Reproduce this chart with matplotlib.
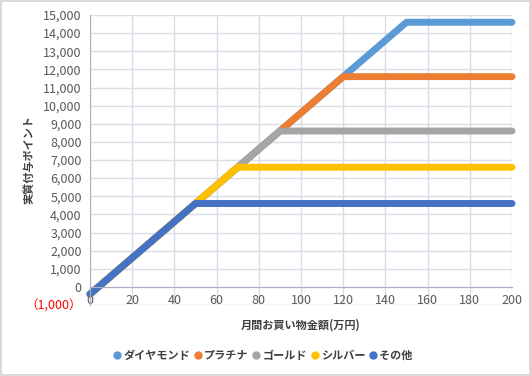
import matplotlib.pyplot as plt
from matplotlib.lines import Line2D
from matplotlib.ticker import FuncFormatter

plt.rcParams['font.family'] = ['Noto Sans CJK JP', 'DejaVu Sans']

# 月間お買い物金額(万円)
amount = [0, 10, 20, 30, 40, 50, 60, 70, 80, 90, 100,
          110, 120, 130, 140, 150, 160, 170, 180, 190, 200]

diamond = [-400, 600, 1600, 2600, 3600, 4600, 5600, 6600, 7600, 8600, 9600,
           10600, 11600, 12600, 13600, 14600, 14600, 14600, 14600, 14600, 14600]
platinum = [-400, 600, 1600, 2600, 3600, 4600, 5600, 6600, 7600, 8600, 9600,
            10600, 11600, 11600, 11600, 11600, 11600, 11600, 11600, 11600, 11600]
gold = [-400, 600, 1600, 2600, 3600, 4600, 5600, 6600, 7600, 8600, 8600,
        8600, 8600, 8600, 8600, 8600, 8600, 8600, 8600, 8600, 8600]
silver = [-400, 600, 1600, 2600, 3600, 4600, 5600, 6600, 6600, 6600, 6600,
          6600, 6600, 6600, 6600, 6600, 6600, 6600, 6600, 6600, 6600]
other = [-400, 600, 1600, 2600, 3600, 4600, 4600, 4600, 4600, 4600, 4600,
         4600, 4600, 4600, 4600, 4600, 4600, 4600, 4600, 4600, 4600]

names = ['ダイヤモンド', 'プラチナ', 'ゴールド', 'シルバー', 'その他']
colors = ['#5B9BD5', '#ED7D31', '#A5A5A5', '#FFC000', '#4472C4']
series = [diamond, platinum, gold, silver, other]

fig = plt.figure(figsize=(5.31, 3.76), dpi=100)
fig.patch.set_edgecolor('#D9D9D9')
fig.patch.set_linewidth(1.5)
ax = fig.add_axes([90 / 531, 1 - 305 / 376, 422 / 531, 290 / 376])

for vals, c in zip(series, colors):
    ax.plot(amount, vals, color=c, lw=5, solid_capstyle='round',
            solid_joinstyle='round', clip_on=False)

ax.set_xlim(0, 200)
ax.set_ylim(-1000, 15000)
ax.set_xticks(range(0, 201, 20))
ax.set_yticks(range(-1000, 15001, 1000))


def fmt(v, pos):
    # negative values shown in full-width parentheses, as in Excel
    if v < 0:
        return '（%s）' % format(int(-v), ',')
    return format(int(v), ',')


ax.yaxis.set_major_formatter(FuncFormatter(fmt))
ax.grid(True, color='#D9DDE6', lw=1)
ax.set_axisbelow(True)
for s in ['top', 'right']:
    ax.spines[s].set_visible(False)
ax.spines['left'].set_color('#AAB0C4')
ax.spines['bottom'].set_position(('data', 0))
ax.spines['bottom'].set_color('#AAB0C4')
ax.tick_params(length=0, labelsize=9, colors='#595959')
ax.tick_params(axis='x', pad=5)
ax.tick_params(axis='y', pad=6)
for lab in ax.get_yticklabels():
    if lab.get_text().startswith('（'):
        lab.set_color('#FF0000')

ax.set_xlabel('月間お買い物金額(万円)', fontsize=8, fontweight='bold', color='#404040')
ax.xaxis.set_label_coords(0.5, -0.045)
ax.set_ylabel('実質付与ポイント', fontsize=8, fontweight='bold', color='#404040')
ax.yaxis.set_label_coords(-0.13, 0.5)

handles = [Line2D([], [], marker='o', ls='', color=c, markersize=5) for c in colors]
fig.legend(handles, names, loc='center', bbox_to_anchor=(262 / 531, 1 - 355 / 376),
           ncol=5, frameon=False, handletextpad=0.05, columnspacing=0.2,
           handlelength=1, prop={'size': 8, 'weight': 'bold'}, labelcolor='#404040')

fig.savefig('out.png')
